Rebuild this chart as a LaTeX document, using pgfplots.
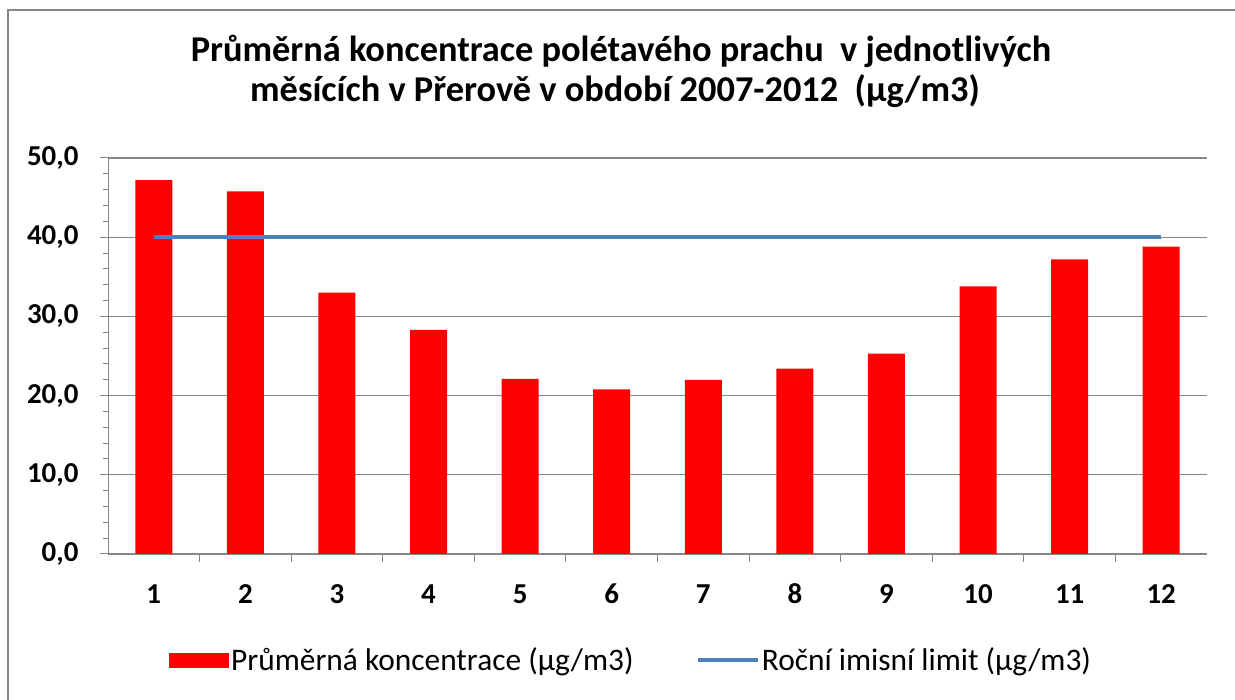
\documentclass[border=0pt]{standalone}
\usepackage{pgfplots}
\pgfplotsset{compat=1.18}
\usepackage{fontspec}
\setmainfont{Carlito}
\definecolor{barred}{HTML}{FF0000}
\definecolor{limblue}{HTML}{4F81BD}
\definecolor{gridgray}{HTML}{878787}
\begin{document}
\begin{tikzpicture}[x=1bp,y=1bp]
\useasboundingbox (0,0) rectangle (1235,700);
\fill[white] (0,0) rectangle (1235,700);
\draw[gridgray, line width=2bp] (8,-5) -- (8,690) -- (1240,690);
\node[anchor=base, font=\bfseries\fontsize{36.5}{36.5}\selectfont] at (621,638) {Průměrná koncentrace polétavého prachu\ \ v jednotlivých};
\node[anchor=base, font=\bfseries\fontsize{36.5}{36.5}\selectfont] at (615,598) {měsících v Přerově v období 2007-2012\ \ (µg/m3)};
\begin{axis}[
  at={(108bp,146bp)}, anchor=south west,
  width=1099bp, height=396bp, scale only axis,
  xmin=0.5, xmax=12.5, ymin=0, ymax=50,
  separate axis lines,
  axis x line*=bottom, axis y line*=left,
  every outer x axis line/.style={draw=none},
  every outer y axis line/.style={draw=none},
  axis line style={draw=none},
  xtick pos=bottom, ytick pos=left,
  ytick={0,10,...,50}, minor y tick num=4,
  /pgf/number format/.cd, fixed, fixed zerofill, precision=1, use comma, assume math mode=true, /pgfplots/.cd,
  yticklabel style={font=\bfseries\fontsize{29}{29}\selectfont, xshift=-18bp},
  ymajorgrids, grid style={gridgray, line width=1.2bp},
  tick align=outside, major tick length=8bp, minor tick length=5bp,
  tick style={gridgray, line width=1bp},
  xtick={1.5,2.5,3.5,4.5,5.5,6.5,7.5,8.5,9.5,10.5,11.5}, xticklabels={},
  extra x ticks={1,2,3,4,5,6,7,8,9,10,11,12},
  extra x tick labels={1,2,3,4,5,6,7,8,9,10,11,12},
  extra x tick style={grid=none, major tick length=0pt, xticklabel style={font=\bfseries\fontsize{29}{29}\selectfont, anchor=base, text height=18bp, yshift=-50bp}},
  legend columns=2,
  legend style={at={(0.476,-0.268)}, anchor=center, draw=none, fill=none,
    font=\fontsize{31.5}{31.5}\selectfont,
    /tikz/every even column/.append style={column sep=60bp}},
]
\draw[gridgray, line width=1.2bp] (rel axis cs:0,1) -- (rel axis cs:0,0) -- (rel axis cs:1,0);
\draw[gridgray, line width=1bp] (rel axis cs:0,0) -- ++(0,-8bp);
\draw[gridgray, line width=1bp] (rel axis cs:1,0) -- ++(0,-8bp);
\addplot[ybar, bar width=37bp, fill=barred, draw=none,
  legend image code/.code={\fill[barred] (0bp,-7.5bp) rectangle (60bp,7.5bp);}]
  coordinates {(1,47.2) (2,45.8) (3,33.0) (4,28.3) (5,22.1) (6,20.8) (7,22.0) (8,23.4) (9,25.3) (10,33.8) (11,37.2) (12,38.8)};
\addlegendentry{Průměrná koncentrace (µg/m3)}
\addplot[limblue, line width=4.5bp, mark=none,
  legend image code/.code={\draw[limblue, line width=4.5bp] (0bp,0bp) -- (60bp,0bp);}]
  coordinates {(1,40) (2,40) (3,40) (4,40) (5,40) (6,40) (7,40) (8,40) (9,40) (10,40) (11,40) (12,40)};
\addlegendentry{Roční imisní limit (µg/m3)}
\end{axis}
\fill[white] (1206.5,146.8) rectangle (1234,541.3);
\end{tikzpicture}
\end{document}
